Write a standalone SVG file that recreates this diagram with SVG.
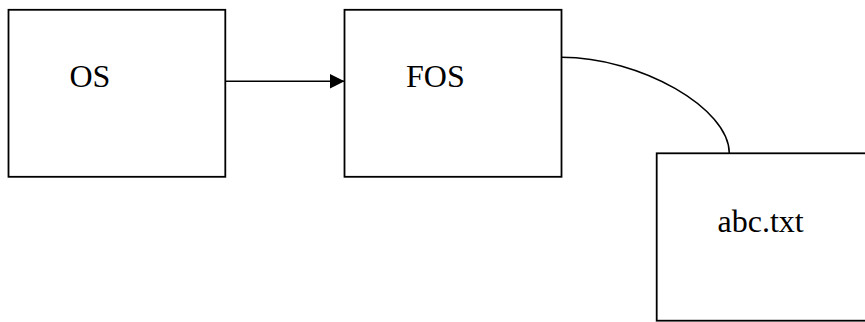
<svg xmlns="http://www.w3.org/2000/svg" width="865" height="322" viewBox="0 0 865 322">
  <style>
    .box { fill: #ffffff; stroke: #000000; stroke-width: 1.8; }
    .label { font-family: "Liberation Serif", "Times New Roman", serif; font-size: 32px; fill: #000000; }
    .link { fill: none; stroke: #000000; stroke-width: 1.5; }
  </style>
  <defs>
    <marker id="arrowhead" markerWidth="15" markerHeight="15" refX="15" refY="7.5" orient="auto" markerUnits="userSpaceOnUse">
      <path d="M0,0 L15,7.5 L0,15 Z" fill="#000000"/>
    </marker>
  </defs>
  <rect width="865" height="322" fill="#ffffff"/>

  <g id="node-os">
    <rect class="box" x="8.5" y="9.8" width="216.8" height="167"/>
    <text class="label" x="69.5" y="87.3">OS</text>
  </g>

  <g id="node-fos">
    <rect class="box" x="344.5" y="9.8" width="217" height="167"/>
    <text class="label" x="406" y="86.8">FOS</text>
  </g>

  <g id="node-abc">
    <rect class="box" x="656.7" y="153.3" width="212" height="167.4"/>
    <text class="label" x="717.5" y="231.5">abc.txt</text>
  </g>

  <g id="connectors">
    <line class="link" x1="225.3" y1="81.3" x2="344.5" y2="81.3" marker-end="url(#arrowhead)"/>
    <path class="link" d="M561.5,57.3 C640.4,57.3 729.3,108.2 729.3,153.3"/>
  </g>
</svg>
